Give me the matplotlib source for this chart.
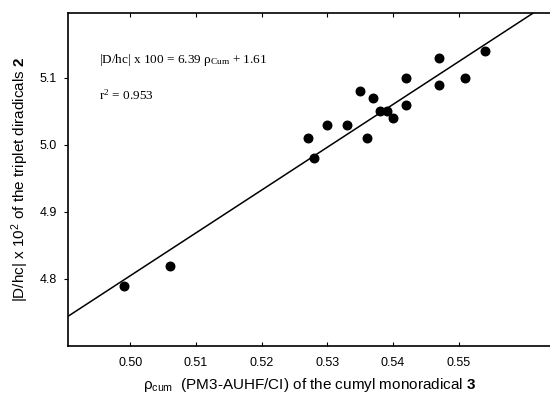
import matplotlib
matplotlib.use('Agg')
import matplotlib.pyplot as plt
import numpy as np

# rho_cum values and |D/hc| x 10^2 values
rho_cum = [0.499, 0.506, 0.527, 0.528, 0.530, 0.533, 0.535, 0.536, 0.537,
           0.538, 0.539, 0.540, 0.542, 0.542, 0.547, 0.547, 0.551, 0.554]
d_hc = [4.79, 4.82, 5.01, 4.98, 5.03, 5.03, 5.08, 5.01, 5.07,
        5.05, 5.05, 5.04, 5.10, 5.06, 5.13, 5.09, 5.10, 5.14]

slope = 6.39
intercept = 1.61
xticks = [0.50, 0.51, 0.52, 0.53, 0.54, 0.55]
yticks = [4.8, 4.9, 5.0, 5.1]

plt.rcParams['font.family'] = ['Liberation Sans', 'DejaVu Sans']
plt.rcParams['mathtext.fontset'] = 'custom'
plt.rcParams['mathtext.rm'] = 'Liberation Sans'
plt.rcParams['mathtext.it'] = 'Liberation Sans'
plt.rcParams['mathtext.bf'] = 'Liberation Sans:bold'

fig = plt.figure(figsize=(5.5, 4), dpi=100)
ax = fig.add_axes([68 / 550, 54 / 400, 484 / 550, 333 / 400])

xlim = (0.4905, 0.5642)
ax.scatter(rho_cum, d_hc, s=38, color='black', zorder=3)
xl = np.array(xlim)
ax.plot(xl, slope * xl + intercept, color='black', lw=1.1)

ax.set_xlim(*xlim)
ax.set_ylim(4.70, 5.197)
ax.set_xticks(xticks)
ax.set_xticklabels(['%.2f' % v for v in xticks])
ax.set_yticks(yticks)
ax.set_yticklabels(['%.1f' % v for v in yticks])
ax.tick_params(axis='x', direction='in', top=True, length=3, labelsize=9, pad=8)
ax.tick_params(axis='y', direction='out', length=3, labelsize=9, pad=5)
ax.tick_params(axis='y', which='both', right=True)
for sp in ax.spines.values():
    sp.set_linewidth(1.2)

ax.set_xlabel(r'$\rho_{\mathrm{cum}}$  (PM3-AUHF/CI) of the cumyl monoradical $\mathbf{3}$',
              fontsize=11, labelpad=5)
ax.set_ylabel(r'|D/hc| x 10$^2$ of the triplet diradicals $\mathbf{2}$',
              fontsize=11, labelpad=6)

serif = ['Liberation Serif', 'DejaVu Serif']
ax.text(0.065, 0.85, r'|D/hc| x 100 = 6.39 $\mathregular{\rho_{Cum}}$ + 1.61',
        transform=ax.transAxes, fontsize=9.5, family=serif)
ax.text(0.065, 0.74, r'r$\mathregular{^2}$ = 0.953',
        transform=ax.transAxes, fontsize=9.5, family=serif)

fig.savefig('out.png', dpi=100)
